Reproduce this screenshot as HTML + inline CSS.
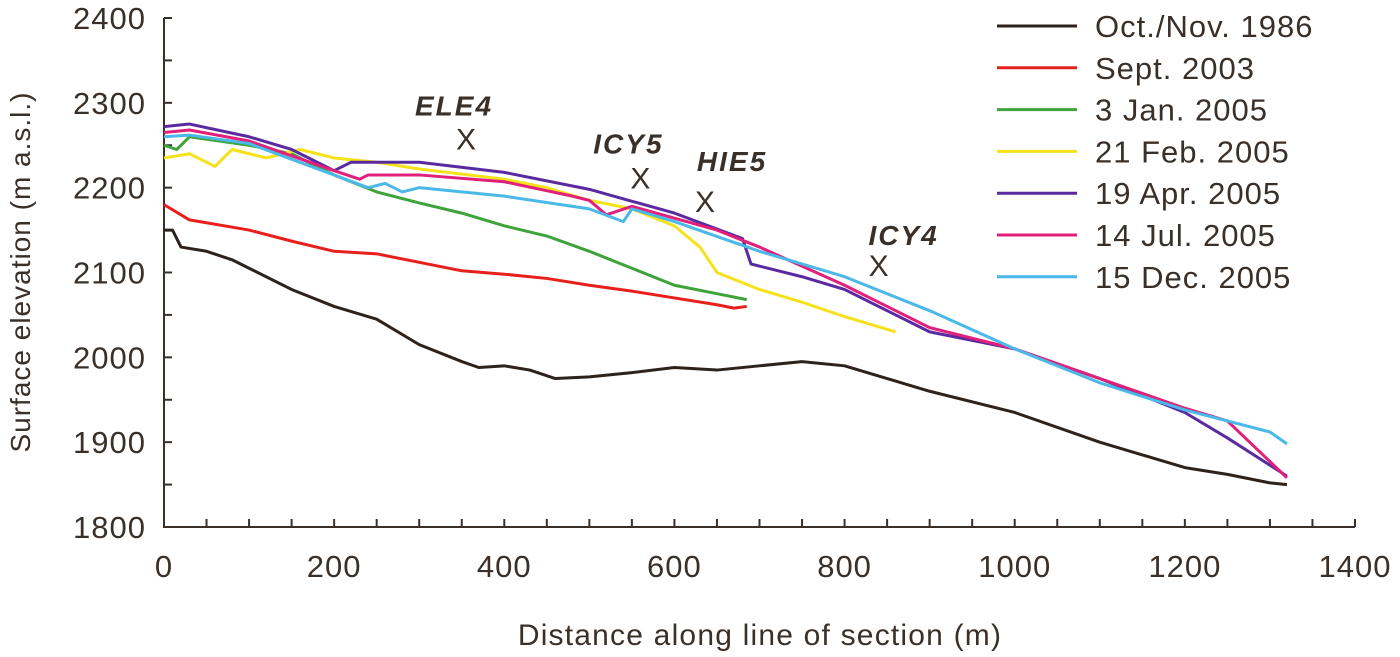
<!DOCTYPE html>
<html><head><meta charset="utf-8"><style>
body{margin:0;background:#fff;}
svg{display:block;font-family:"Liberation Sans",sans-serif;}
</style></head><body>
<svg id="chart" width="1400" height="657">
<g id="axes"></g><g id="series"></g><g id="annot"></g><g id="legend"></g>
<text x="760" y="645" font-size="30" letter-spacing="1.2" fill="#3a302a" text-anchor="middle">Distance along line of section (m)</text>
<text x="0" y="0" font-size="28" letter-spacing="1" fill="#3a302a" text-anchor="middle" transform="translate(30,272) rotate(-90)">Surface elevation (m a.s.l.)</text>
</svg>
<script>
const xTicks=[0,200,400,600,800,1000,1200,1400];
const yTicks=[1800,1900,2000,2100,2200,2300,2400];
const seriesNames=["Oct./Nov. 1986","Sept. 2003","3 Jan. 2005","21 Feb. 2005","19 Apr. 2005","14 Jul. 2005","15 Dec. 2005"];
const seriesColors=["#2e221c","#e8201c","#3ea33a","#f5e21a","#5a2aa0","#e0207a","#4ab8e8"];
const s1986=[[0,2150],[10,2150],[20,2130],[50,2125],[80,2115],[100,2105],[150,2080],[200,2060],[250,2045],[300,2015],[350,1995],[370,1988],[400,1990],[430,1985],[460,1975],[500,1977],[550,1982],[600,1988],[650,1985],[700,1990],[750,1995],[800,1990],[850,1975],[900,1960],[1000,1935],[1100,1900],[1200,1870],[1250,1862],[1300,1852],[1320,1850]];
const s2003=[[0,2180],[30,2162],[100,2150],[150,2137],[200,2125],[250,2122],[300,2112],[350,2102],[400,2098],[450,2093],[500,2085],[550,2078],[600,2070],[650,2062],[670,2058],[685,2060]];
const sJan=[[0,2250],[15,2245],[30,2260],[100,2250],[150,2240],[200,2215],[250,2195],[300,2182],[350,2170],[400,2155],[450,2143],[500,2125],[550,2105],[600,2085],[650,2075],[685,2068]];
const sFeb=[[0,2235],[30,2240],[60,2225],[80,2245],[120,2235],[160,2245],[200,2235],[250,2230],[300,2222],[400,2210],[450,2200],[500,2185],[550,2175],[600,2155],[630,2130],[650,2100],[700,2080],[750,2065],[800,2048],[860,2030]];
const sApr=[[0,2272],[30,2275],[100,2260],[150,2245],[200,2220],[220,2230],[300,2230],[400,2218],[500,2198],[600,2170],[680,2140],[690,2110],[750,2095],[800,2080],[850,2055],[900,2030],[950,2020],[1000,2010],[1100,1975],[1200,1935],[1250,1905],[1320,1860]];
const sJul=[[0,2265],[30,2268],[100,2255],[200,2220],[230,2210],[240,2215],[300,2215],[400,2207],[480,2190],[500,2185],[520,2168],[550,2178],[650,2150],[700,2130],[800,2085],[900,2035],[1000,2010],[1100,1975],[1200,1940],[1250,1925],[1320,1858]];
const sDec=[[0,2260],[30,2262],[100,2252],[200,2215],[240,2200],[260,2205],[280,2195],[300,2200],[400,2190],[500,2175],[540,2160],[550,2175],[600,2160],[700,2125],[800,2095],[900,2055],[1000,2010],[1100,1970],[1200,1938],[1250,1925],[1300,1912],[1320,1898]];
const allSeries=[s1986,s2003,sJan,sFeb,sApr,sJul,sDec];
const annLabels=["ELE4","ICY5","HIE5","ICY4"];
const annX=[355,560,636,840];
const annY=[2258,2212,2184,2109];

const labelDx=[-12,-12,27,25], labelDy=[-23,-24,-30,-20];
const NS="http://www.w3.org/2000/svg";
const X0=164,X1=1355,Y0=527,Y1=18;
const xs=d=>X0+(d/1400)*(X1-X0);
const ys=e=>Y0-(e-1800)/600*(Y0-Y1);
function mk(tag,attrs,parent){const el=document.createElementNS(NS,tag);for(const k in attrs)el.setAttribute(k,attrs[k]);parent.appendChild(el);return el;}
const ax=document.getElementById('axes');
let a=mk('path',{d:`M${X0},${Y1}V${Y0}H${X1}`,stroke:'#3a302a','stroke-width':2,fill:'none'},ax);


for(let d=0;d<=1400;d+=50){const t=mk('line',{x1:xs(d),x2:xs(d),y1:Y0,y2:Y0-8,stroke:'#3a302a','stroke-width':2},ax);

}
for(let e=1800;e<=2400;e+=50){const t=mk('line',{x1:X0,x2:X0+8,y1:ys(e),y2:ys(e),stroke:'#3a302a','stroke-width':2},ax);

}
xTicks.forEach(v=>{const t=mk('text',{x:xs(v),y:577,'font-size':31,'letter-spacing':1,fill:'#3a302a','text-anchor':'middle'},ax);t.textContent=v;

});
yTicks.forEach(v=>{const t=mk('text',{x:146,y:ys(v)+11,'font-size':31,'letter-spacing':1,fill:'#3a302a','text-anchor':'end'},ax);t.textContent=v;

});
const sg=document.getElementById('series');
allSeries.forEach((s,i)=>{const p=mk('polyline',{points:s.map(q=>xs(q[0])+','+ys(q[1])).join(' '),fill:'none',stroke:seriesColors[i],'stroke-width':3,'stroke-linejoin':'round'},sg);

});
const an=document.getElementById('annot');
annLabels.forEach((l,i)=>{const t=mk('text',{x:xs(annX[i])+labelDx[i],y:ys(annY[i])+labelDy[i],'font-size':28,'letter-spacing':2,'font-weight':'bold','font-style':'italic',fill:'#3a302a','text-anchor':'middle'},an);t.textContent=l;


const x=mk('text',{x:xs(annX[i]),y:ys(annY[i])+11,'font-size':30,fill:'#3a302a','text-anchor':'middle'},an);x.textContent='X';

});
const lg=document.getElementById('legend');
seriesNames.forEach((n,i)=>{const y=26+i*41.8;
const ln=mk('line',{x1:997,x2:1077,y1:y,y2:y,stroke:seriesColors[i],'stroke-width':3},lg);


const t=mk('text',{x:1095,y:y+11,'font-size':31,'letter-spacing':1,fill:'#3a302a'},lg);t.textContent=n;

});
</script>
</body></html>
